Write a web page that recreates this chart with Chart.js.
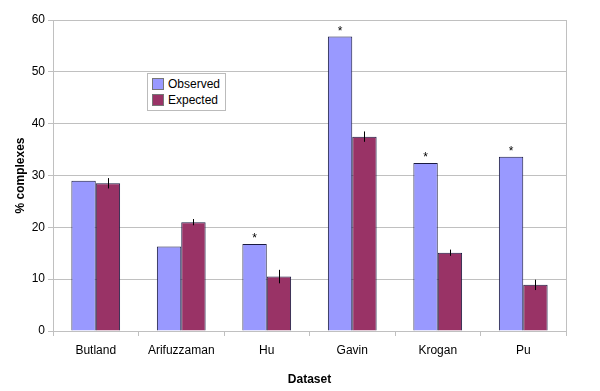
<!DOCTYPE html>
<html>
<head>
<meta charset="utf-8">
<script src="https://cdn.jsdelivr.net/npm/chart.js@4/dist/chart.umd.min.js"></script>
<style>
  html, body { margin:0; padding:0; background:#fff; }
  #wrap { position:relative; width:600px; height:391px; }
  #legend { position:absolute; left:147px; top:73px; border:1px solid #bbb; background:#fff;
    font:12px "Liberation Sans", Arial, sans-serif; color:#000; padding:2px 5px 2px 4px; }
  #legend div { display:flex; align-items:center; height:16px; }
  #legend span.sw { display:inline-block; width:10px; height:10px; margin-right:4px; border:1px solid #777; }
</style>
</head>
<body>
<div id="wrap">
  <canvas id="chart" width="600" height="391"></canvas>
  <div id="legend"></div>
</div>
<script>
// data
const categories = ['Butland', 'Arifuzzaman', 'Hu', 'Gavin', 'Krogan', 'Pu'];
const observed = [29.0, 16.3, 16.8, 56.8, 32.4, 33.6];
const expected = [28.5, 21.0, 10.5, 37.5, 15.1, 8.9];
const expectedErr = [1.0, 0.6, 1.3, 1.0, 0.6, 1.0];
const significant = [false, false, true, true, true, true];
const yTicks = [0, 10, 20, 30, 40, 50, 60];

const colObs = '#9999ff', colExp = '#993366', edge = '#1a1a40', gridCol = '#c0c0c0';
const font = { family: '"Liberation Sans", Arial, sans-serif', size: 12 };

document.getElementById('legend').innerHTML =
  `<div><span class="sw" style="background:${colObs}"></span>Observed</div>` +
  `<div><span class="sw" style="background:${colExp}"></span>Expected</div>`;

// error bars, asterisks and right frame line
const extras = {
  id: 'extras',
  afterDatasetsDraw(chart) {
    const ctx = chart.ctx, y = chart.scales.y, area = chart.chartArea;
    ctx.save();
    ctx.strokeStyle = '#000'; ctx.lineWidth = 1;
    chart.getDatasetMeta(1).data.forEach((bar, i) => {
      const x = Math.round(bar.x) + 0.5;
      ctx.beginPath();
      ctx.moveTo(x, y.getPixelForValue(expected[i] + expectedErr[i]));
      ctx.lineTo(x, y.getPixelForValue(expected[i] - expectedErr[i]));
      ctx.stroke();
    });
    ctx.fillStyle = '#000';
    ctx.font = '12px "Liberation Sans", Arial, sans-serif';
    ctx.textAlign = 'center'; ctx.textBaseline = 'bottom';
    chart.getDatasetMeta(0).data.forEach((bar, i) => {
      if (significant[i]) ctx.fillText('*', bar.x, bar.y + 1);
    });
    ctx.strokeStyle = gridCol;
    ctx.beginPath();
    ctx.moveTo(area.right + 0.5, area.top);
    ctx.lineTo(area.right + 0.5, area.bottom);
    ctx.stroke();
    ctx.restore();
  }
};

new Chart(document.getElementById('chart').getContext('2d'), {
  type: 'bar',
  data: {
    labels: categories,
    datasets: [
      { label: 'Observed', data: observed, backgroundColor: colObs, borderColor: edge, borderWidth: 1 },
      { label: 'Expected', data: expected, backgroundColor: colExp, borderColor: edge, borderWidth: 1 }
    ]
  },
  options: {
    responsive: false,
    animation: false,
    layout: { padding: { top: 20, right: 34, left: 9, bottom: 0 } },
    datasets: { bar: { categoryPercentage: 0.57, barPercentage: 1.0 } },
    plugins: { legend: { display: false }, tooltip: { enabled: false } },
    scales: {
      x: {
        grid: { drawOnChartArea: false, color: gridCol, tickLength: 5 },
        border: { color: gridCol },
        ticks: { color: '#000', font: font, padding: 7 },
        title: { display: true, text: 'Dataset', color: '#000', font: { ...font, weight: 'bold' }, padding: { top: 8 } },
        afterFit: s => { s.height = 60; }
      },
      y: {
        min: 0, max: 60,
        afterBuildTicks: s => { s.ticks = yTicks.map(v => ({ value: v })); },
        grid: { color: gridCol, tickLength: 5 },
        border: { color: gridCol },
        ticks: { color: '#000', font: font, padding: 3 },
        title: { display: true, text: '% complexes', color: '#000', font: { ...font, weight: 'bold' }, padding: { bottom: 4 } },
        afterFit: s => { s.width = 44; }
      }
    }
  },
  plugins: [extras]
});
</script>
</body>
</html>
